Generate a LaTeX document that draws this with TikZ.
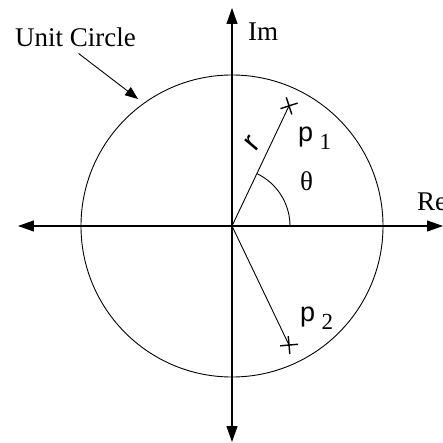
\documentclass[tikz,border=0pt]{standalone}
\usepackage{fontspec}
\setmainfont{Liberation Serif}
\newfontfamily\pfont{Liberation Sans}
\usepackage{tikz}
\usetikzlibrary{arrows.meta, positioning, calc}
\tikzset{
  txt/.style={inner sep=0pt, font=\fontsize{27}{30}\selectfont},
  ptxt/.style={inner sep=0pt, font=\fontsize{27}{30}\selectfont\pfont},
  subtxt/.style={inner sep=0pt, font=\fontsize{23}{26}\selectfont},
  ln/.style={line width=0.9pt, draw=black},
  axis/.style={ln, line width=1.1pt, {Triangle[length=16pt,width=11pt]}-{Triangle[length=16pt,width=11pt]}},
  ptr/.style={ln, -{Triangle[length=13pt,width=10pt]}},
  pole/.pic={\draw[line width=1.4pt] (-9,0) -- (9,0) (0,-9) -- (0,9);},
}

\begin{document}
\begin{tikzpicture}[x=1pt, y=1pt]
  \useasboundingbox (-232,-216) rectangle (211,226);
  \coordinate (O) at (0,0);
  \coordinate (west) at (-214,0);
  \coordinate (east) at (211,0);
  \coordinate (north) at (0,218);
  \coordinate (south) at (0,-216);
  \coordinate (p1) at (64.6:133);
  \coordinate (p2) at (-64.4:132);
  \coordinate (rim) at (126.5:158);

  % unit circle and axes
  \draw[ln] (O) circle[radius=151];
  \draw[axis] (west) -- (east);
  \draw[axis] (south) -- (north);

  % poles
  \draw[ln] (O) -- (p1);
  \draw[ln] (O) -- (p2);
  \pic[rotate=18] at (p1) {pole};
  \pic[rotate=5] at (p2) {pole};
  \draw[ln] (58,0) arc[start angle=0, end angle=64.6, radius=58];

  % labels
  \node[txt, anchor=base west] (im) at (16,185) {Im};
  \node[txt, anchor=base west] (re) at (185,16) {Re};
  \node[txt, anchor=base west] (uc) at (-217,179) {Unit Circle};
  \node[txt, anchor=base west] (theta) at (68,36) {θ};
  \node[ptxt, rotate=50, font=\fontsize{30}{32}\selectfont\pfont] (r) at (21,83) {r};
  \node[ptxt, anchor=base west] (p1lbl) at (66,85) {p};
  \node[subtxt, anchor=base west] (p1sub) at ([xshift=6pt, yshift=-8pt]p1lbl.base east) {1};
  \node[ptxt, anchor=base west] (p2lbl) at (68,-95) {p};
  \node[subtxt, anchor=base west] (p2sub) at ([xshift=6pt, yshift=-8pt]p2lbl.base east) {2};

  \draw[ptr] ([xshift=3pt, yshift=-6pt]uc.south) -- (rim);
\end{tikzpicture}
\end{document}
